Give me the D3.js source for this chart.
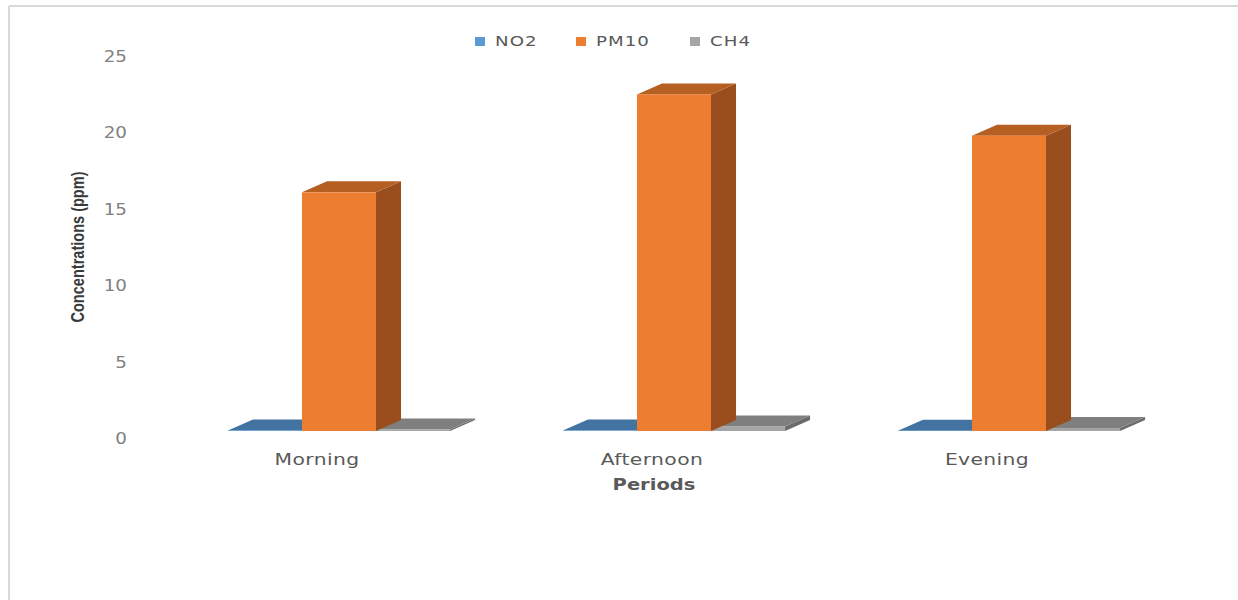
<!DOCTYPE html>
<html>
<head>
<meta charset="utf-8">
<script src="https://cdn.jsdelivr.net/npm/d3@7"></script>
<style>
  html, body { margin: 0; padding: 0; background: #fff; }
  svg { display: block; }
</style>
</head>
<body>
<svg id="chart" width="1238" height="600"></svg>
<script>
// Pollutant concentrations by period of the day (ppm)
const periods = ["Morning", "Afternoon", "Evening"];
const seriesNames = ["NO2", "PM10", "CH4"];
const no2Values = [0.04, 0.03, 0.02];
const pm10Values = [15.6, 22.0, 19.3];
const ch4Values = [0.1, 0.3, 0.2];
const yTicks = [0, 5, 10, 15, 20, 25];

const seriesValues = { NO2: no2Values, PM10: pm10Values, CH4: ch4Values };

// face colours: front, top, side
const palette = {
  NO2:  { front: "#5b9bd5", top: "#4273a1", side: "#3a6690" },
  PM10: { front: "#ed7d31", top: "#b55f22", side: "#9a4e1e" },
  CH4:  { front: "#a5a5a5", top: "#7f7f7f", side: "#6b6b6b" }
};

const FONT = "DejaVu Sans, Verdana, sans-serif";
const svg = d3.select("#chart");

// outer frame lines
svg.append("line").attr("x1", 9).attr("y1", 6).attr("x2", 1238).attr("y2", 6)
  .attr("stroke", "#d9d9d9").attr("stroke-width", 2);
svg.append("line").attr("x1", 9).attr("y1", 6).attr("x2", 9).attr("y2", 600)
  .attr("stroke", "#d9d9d9").attr("stroke-width", 2);

const x0 = d3.scaleBand().domain(periods).range([171.5, 1176.5])
  .paddingInner(0.337).paddingOuter(0.1685);
const x1 = d3.scaleBand().domain(seriesNames).range([0, x0.bandwidth()]).padding(0);
const y = d3.scaleLinear().domain([0, 25]).range([431, 48.5]);

// depth of the 3D extrusion
const dx = 25, dy = -11;

// y axis labels
const yAxis = d3.axisLeft(y).tickValues(yTicks).tickSize(0).tickPadding(0);
const gy = svg.append("g").attr("transform", "translate(127,8)").call(yAxis);
gy.select(".domain").remove();
gy.selectAll("text")
  .attr("font-family", FONT)
  .attr("font-size", 15).attr("fill", "#808080")
  .attr("text-anchor", "end")
  .attr("transform", "scale(1.22,1)");

// bars
const groups = svg.append("g").selectAll("g").data(periods).join("g")
  .attr("transform", d => `translate(${x0(d)},0)`);

const drawOrder = ["NO2", "CH4", "PM10"];
groups.each(function(p, i) {
  const g = d3.select(this);
  drawOrder.forEach(s => {
    const v = seriesValues[s][i];
    const xl = x1(s), xr = xl + x1.bandwidth();
    const yt = y(v), yb = y(0);
    const c = palette[s];
    // side face
    g.append("path")
      .attr("d", `M${xr},${yt}L${xr + dx},${yt + dy}L${xr + dx},${yb + dy}L${xr},${yb}Z`)
      .attr("fill", c.side);
    // top face
    g.append("path")
      .attr("d", `M${xl},${yt}L${xl + dx},${yt + dy}L${xr + dx},${yt + dy}L${xr},${yt}Z`)
      .attr("fill", c.top);
    // front face
    g.append("rect")
      .attr("x", xl).attr("y", yt)
      .attr("width", x1.bandwidth()).attr("height", Math.max(yb - yt, 0))
      .attr("fill", c.front);
  });
});

// category labels
const xAxis = d3.axisBottom(x0).tickSize(0).tickPadding(0);
const gx = svg.append("g").attr("transform", "translate(-22,465)").call(xAxis);
gx.select(".domain").remove();
gx.selectAll("text")
  .attr("dy", 0)
  .attr("font-family", FONT)
  .attr("font-size", 16).attr("fill", "#595959")
  .attr("letter-spacing", 0.3)
  .attr("transform", "scale(1.27,1)");

// axis titles
svg.append("g")
  .attr("transform", `translate(${x0("Afternoon") + x0.bandwidth() / 2 - 20},490) scale(1.22,1)`)
  .append("text")
  .attr("text-anchor", "middle")
  .attr("font-family", FONT)
  .attr("font-weight", "bold").attr("font-size", 16).attr("fill", "#595959")
  .text("Periods");

svg.append("text")
  .attr("transform", "translate(84,247) rotate(-90)")
  .attr("text-anchor", "middle")
  .attr("font-family", "Liberation Sans, Arial, sans-serif")
  .attr("font-weight", "bold").attr("font-size", 18).attr("fill", "#3a3a3a")
  .attr("textLength", 151).attr("lengthAdjust", "spacingAndGlyphs")
  .text("Concentrations (ppm)");

// legend
const legendX = [475, 576, 690];
const legend = svg.append("g").selectAll("g").data(seriesNames).join("g")
  .attr("transform", (d, i) => `translate(${legendX[i]},37)`);
legend.append("rect").attr("width", 10).attr("height", 9)
  .attr("fill", d => palette[d].front);
legend.append("g").attr("transform", "translate(20,9) scale(1.3,1)")
  .append("text")
  .attr("font-family", FONT)
  .attr("font-size", 14).attr("fill", "#595959").attr("letter-spacing", 0.8)
  .text(d => d);
</script>
</body>
</html>
